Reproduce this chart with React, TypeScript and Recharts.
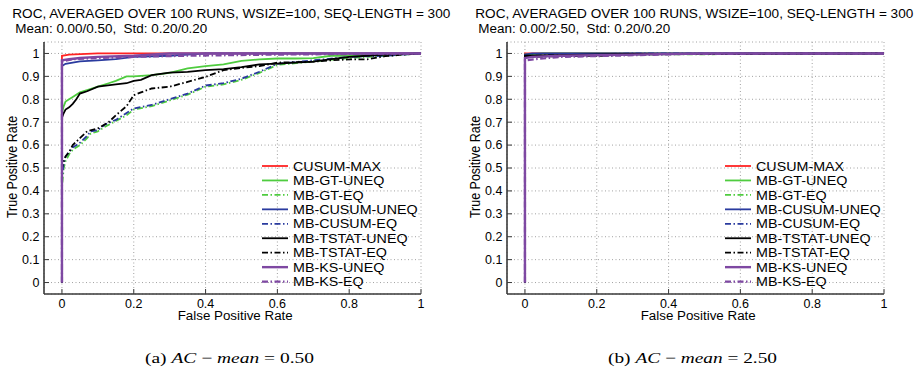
import React from 'react';
import { LineChart, Line, XAxis, YAxis, CartesianGrid, Legend } from 'recharts';

// ---------- labels ----------
const SERIES_NAMES = [
  'CUSUM-MAX',
  'MB-GT-UNEQ',
  'MB-GT-EQ',
  'MB-CUSUM-UNEQ',
  'MB-CUSUM-EQ',
  'MB-TSTAT-UNEQ',
  'MB-TSTAT-EQ',
  'MB-KS-UNEQ',
  'MB-KS-EQ',
];
const X_TICKS = [0, 0.2, 0.4, 0.6, 0.8, 1];
const Y_TICKS = [0, 0.1, 0.2, 0.3, 0.4, 0.5, 0.6, 0.7, 0.8, 0.9, 1];
const TITLE = 'ROC, AVERAGED OVER 100 RUNS, WSIZE=100, SEQ-LENGTH = 300';
const SUBTITLE_A = 'Mean: 0.00/0.50,  Std: 0.20/0.20';
const SUBTITLE_B = 'Mean: 0.00/2.50,  Std: 0.20/0.20';
const X_LABEL = 'False Positive Rate';
const Y_LABEL = 'True Positive Rate';

// ---------- panel (a) data: AC-mean = 0.50 ----------
const a_cusumMax_fpr = [0, 0, 0.02, 0.1, 1];
const a_cusumMax_tpr = [0, 0.99, 0.995, 1, 1];

const a_gtUneq_fpr = [0, 0, 0.005, 0.01, 0.02, 0.03, 0.05, 0.07, 0.1, 0.13, 0.15, 0.18, 0.2, 0.25, 0.3, 0.35, 0.4, 0.45, 0.5, 0.55, 0.6, 0.65, 0.7, 0.75, 0.8, 0.9, 1];
const a_gtUneq_tpr = [0, 0.74, 0.77, 0.79, 0.8, 0.81, 0.83, 0.84, 0.855, 0.87, 0.88, 0.9, 0.9, 0.905, 0.915, 0.935, 0.945, 0.952, 0.968, 0.974, 0.978, 0.978, 0.98, 0.99, 0.99, 0.995, 1];

const a_gtEq_fpr = [0, 0, 0.005, 0.01, 0.02, 0.03, 0.05, 0.07, 0.08, 0.1, 0.12, 0.15, 0.18, 0.2, 0.25, 0.3, 0.35, 0.4, 0.45, 0.5, 0.55, 0.6, 0.7, 0.8, 0.9, 1];
const a_gtEq_tpr = [0, 0.42, 0.5, 0.53, 0.56, 0.58, 0.6, 0.63, 0.65, 0.66, 0.68, 0.705, 0.73, 0.755, 0.77, 0.795, 0.82, 0.855, 0.865, 0.885, 0.915, 0.95, 0.965, 0.98, 0.99, 1];

const a_cusumUneq_fpr = [0, 0, 0.01, 0.05, 0.1, 0.15, 0.2, 0.3, 0.4, 1];
const a_cusumUneq_tpr = [0, 0.945, 0.955, 0.965, 0.97, 0.975, 0.985, 0.99, 1, 1];

const a_cusumEq_fpr = [0, 0, 0.005, 0.01, 0.02, 0.03, 0.05, 0.07, 0.08, 0.1, 0.12, 0.15, 0.18, 0.2, 0.25, 0.3, 0.35, 0.4, 0.45, 0.5, 0.55, 0.6, 0.7, 0.8, 0.9, 1];
const a_cusumEq_tpr = [0, 0.46, 0.52, 0.55, 0.57, 0.59, 0.61, 0.64, 0.66, 0.665, 0.69, 0.71, 0.74, 0.76, 0.775, 0.8, 0.825, 0.86, 0.87, 0.89, 0.92, 0.955, 0.97, 0.985, 0.99, 1];

const a_tstatUneq_fpr = [0, 0, 0.005, 0.01, 0.02, 0.03, 0.04, 0.05, 0.07, 0.1, 0.15, 0.18, 0.2, 0.22, 0.25, 0.3, 0.35, 0.4, 0.45, 0.5, 0.55, 0.6, 0.65, 0.7, 0.75, 0.8, 0.85, 0.9, 1];
const a_tstatUneq_tpr = [0, 0.72, 0.74, 0.755, 0.765, 0.78, 0.8, 0.825, 0.835, 0.855, 0.865, 0.87, 0.88, 0.885, 0.905, 0.916, 0.92, 0.927, 0.932, 0.94, 0.952, 0.956, 0.96, 0.964, 0.975, 0.985, 0.99, 0.995, 1];

const a_tstatEq_fpr = [0, 0, 0.005, 0.01, 0.02, 0.03, 0.05, 0.07, 0.1, 0.13, 0.15, 0.18, 0.2, 0.22, 0.25, 0.3, 0.35, 0.4, 0.45, 0.5, 0.55, 0.6, 0.65, 0.7, 0.75, 0.8, 0.85, 0.9, 0.95, 1];
const a_tstatEq_tpr = [0, 0.5, 0.53, 0.55, 0.57, 0.6, 0.63, 0.66, 0.673, 0.7, 0.73, 0.77, 0.818, 0.83, 0.847, 0.855, 0.876, 0.898, 0.927, 0.937, 0.945, 0.96, 0.962, 0.964, 0.97, 0.974, 0.974, 0.988, 0.995, 1];

const a_ksUneq_fpr = [0, 0, 0.02, 0.05, 0.1, 0.2, 0.3, 1];
const a_ksUneq_tpr = [0, 0.97, 0.975, 0.98, 0.985, 0.99, 1, 1];

const a_ksEq_fpr = [0, 0, 0.03, 0.1, 0.2, 0.35, 0.6, 1];
const a_ksEq_tpr = [0, 0.965, 0.975, 0.98, 0.985, 0.99, 0.995, 1];

// ---------- panel (b) data: AC-mean = 2.50 ----------
const b_cusumMax_fpr = [0, 0, 1];
const b_cusumMax_tpr = [0, 1, 1];
const b_gtUneq_fpr = [0, 0, 0.05, 1];
const b_gtUneq_tpr = [0, 0.995, 1, 1];
const b_gtEq_fpr = [0, 0, 0.1, 0.3, 1];
const b_gtEq_tpr = [0, 0.985, 0.99, 0.995, 1];
const b_cusumUneq_fpr = [0, 0, 0.02, 1];
const b_cusumUneq_tpr = [0, 0.995, 1, 1];
const b_cusumEq_fpr = [0, 0, 0.1, 0.3, 1];
const b_cusumEq_tpr = [0, 0.99, 0.995, 1, 1];
const b_tstatUneq_fpr = [0, 0, 0.05, 0.25, 1];
const b_tstatUneq_tpr = [0, 0.99, 0.992, 0.997, 1];
const b_tstatEq_fpr = [0, 0, 0.1, 0.22, 0.3, 1];
const b_tstatEq_tpr = [0, 0.985, 0.988, 0.99, 0.997, 1];
const b_ksUneq_fpr = [0, 0, 0.02, 0.1, 0.3, 0.5, 1];
const b_ksUneq_tpr = [0, 0.98, 0.985, 0.99, 0.995, 1, 1];
const b_ksEq_fpr = [0, 0, 0.03, 0.1, 0.25, 0.45, 1];
const b_ksEq_tpr = [0, 0.97, 0.975, 0.985, 0.99, 0.998, 1];

// ---------- styles ----------
const RED = '#ff2323';
const GREEN = '#4fcc3f';
const BLUE = '#2a3b9f';
const BLACK = '#000000';
const PURPLE = '#7e48a2';
const DASHDOT = '6 2.5 1.5 2.5';
const STYLES = [
  { color: RED, dash: undefined, width: 1.8 },
  { color: GREEN, dash: undefined, width: 1.8 },
  { color: GREEN, dash: DASHDOT, width: 1.8 },
  { color: BLUE, dash: undefined, width: 1.8 },
  { color: BLUE, dash: DASHDOT, width: 1.8 },
  { color: BLACK, dash: undefined, width: 1.8 },
  { color: BLACK, dash: DASHDOT, width: 1.8 },
  { color: PURPLE, dash: undefined, width: 2.4 },
  { color: PURPLE, dash: DASHDOT, width: 2.2 },
];
const AXIS_COLOR = '#3a3a3a';
const FONT = '"Liberation Sans", Arial, Helvetica, sans-serif';
const SERIF = '"Liberation Serif", "DejaVu Serif", serif';
const STRETCH = 1.1;

const toPoints = (fpr: number[], tpr: number[]) => fpr.map((x, i) => ({ x, y: tpr[i] }));

const SERIES_A = [
  toPoints(a_cusumMax_fpr, a_cusumMax_tpr),
  toPoints(a_gtUneq_fpr, a_gtUneq_tpr),
  toPoints(a_gtEq_fpr, a_gtEq_tpr),
  toPoints(a_cusumUneq_fpr, a_cusumUneq_tpr),
  toPoints(a_cusumEq_fpr, a_cusumEq_tpr),
  toPoints(a_tstatUneq_fpr, a_tstatUneq_tpr),
  toPoints(a_tstatEq_fpr, a_tstatEq_tpr),
  toPoints(a_ksUneq_fpr, a_ksUneq_tpr),
  toPoints(a_ksEq_fpr, a_ksEq_tpr),
];
const SERIES_B = [
  toPoints(b_cusumMax_fpr, b_cusumMax_tpr),
  toPoints(b_gtUneq_fpr, b_gtUneq_tpr),
  toPoints(b_gtEq_fpr, b_gtEq_tpr),
  toPoints(b_cusumUneq_fpr, b_cusumUneq_tpr),
  toPoints(b_cusumEq_fpr, b_cusumEq_tpr),
  toPoints(b_tstatUneq_fpr, b_tstatUneq_tpr),
  toPoints(b_tstatEq_fpr, b_tstatEq_tpr),
  toPoints(b_ksUneq_fpr, b_ksUneq_tpr),
  toPoints(b_ksEq_fpr, b_ksEq_tpr),
];

const fmt = (v: number) => String(v);

const YTick = (p: any) => (
  <g>
    <line x1={p.x} x2={p.x + 5} y1={p.y} y2={p.y} stroke={AXIS_COLOR} strokeWidth={1} />
    <text x={p.x - 4.5} y={p.y} dy={4.4} textAnchor="end" fontSize={12.5} fontFamily={FONT} fill="#000">
      {fmt(p.payload.value)}
    </text>
  </g>
);

const XTick = (p: any) => (
  <g>
    <line x1={p.x} x2={p.x} y1={p.y} y2={p.y - 5} stroke={AXIS_COLOR} strokeWidth={1} />
    <text x={p.x} y={p.y} dy={13.5} textAnchor="middle" fontSize={12.5} fontFamily={FONT} fill="#000">
      {fmt(p.payload.value)}
    </text>
  </g>
);

const ROW_H = 14.45;
const LegendContent = () => (
  <svg width={180} height={ROW_H * SERIES_NAMES.length + 4} style={{ display: 'block', overflow: 'visible' }}>
    {SERIES_NAMES.map((name, i) => {
      const cy = 7 + i * ROW_H;
      return (
        <g key={name}>
          <line
            x1={0}
            x2={26}
            y1={cy}
            y2={cy}
            stroke={STYLES[i].color}
            strokeWidth={STYLES[i].width}
            strokeDasharray={STYLES[i].dash}
          />
          <text
            transform={`translate(31, ${cy + 4.6}) scale(${STRETCH}, 1)`}
            fontSize={13}
            fontFamily={FONT}
            fill="#000"
          >
            {name}
          </text>
        </g>
      );
    })}
  </svg>
);

type PanelProps = {
  left: number;
  subtitle: string;
  series: { x: number; y: number }[][];
  captionLetter: string;
  captionValue: string;
};

const Panel = ({ left, subtitle, series, captionLetter, captionValue }: PanelProps) => (
  <div style={{ position: 'absolute', left, top: 0, width: 460, height: 372 }}>
    <LineChart width={460} height={372} margin={{ top: 42, right: 39, bottom: 58, left: 0 }}>
      <CartesianGrid stroke="#8a8a8a" strokeDasharray="1 2.5" strokeWidth={0.8} />
      <XAxis
        type="number"
        dataKey="x"
        domain={[-0.05, 1]}
        ticks={X_TICKS}
        allowDataOverflow
        height={20}
        tickSize={0}
        tickMargin={0}
        tickLine={false}
        tick={<XTick />}
        axisLine={{ stroke: AXIS_COLOR, strokeWidth: 1.6 }}
        interval={0}
      />
      <YAxis
        type="number"
        dataKey="y"
        domain={[-0.05, 1.05]}
        ticks={Y_TICKS}
        allowDataOverflow
        width={44}
        tickSize={0}
        tickMargin={0}
        tickLine={false}
        tick={<YTick />}
        axisLine={{ stroke: AXIS_COLOR, strokeWidth: 1.6 }}
        interval={0}
      />
      {series.map((data, i) => (
        <Line
          key={SERIES_NAMES[i]}
          name={SERIES_NAMES[i]}
          data={data}
          dataKey="y"
          type="linear"
          stroke={STYLES[i].color}
          strokeWidth={STYLES[i].width}
          strokeDasharray={STYLES[i].dash}
          dot={false}
          activeDot={false}
          isAnimationActive={false}
        />
      ))}
      <Legend
        layout="vertical"
        align="center"
        verticalAlign="middle"
        content={<LegendContent />}
        wrapperStyle={{ position: 'absolute', left: 262, top: 159, width: 180, height: 136 }}
      />
    </LineChart>
    <svg width={460} height={372} style={{ position: 'absolute', left: 0, top: 0, pointerEvents: 'none' }}>
      <text x={12.3} y={18.3} fontSize={13} fontFamily={FONT} fill="#000" textLength={438} lengthAdjust="spacingAndGlyphs">
        {TITLE}
      </text>
      <text
        x={15.3}
        y={32.6}
        fontSize={12.5}
        fontFamily={FONT}
        fill="#000"
        textLength={192}
        lengthAdjust="spacingAndGlyphs"
        style={{ whiteSpace: 'pre' }}
      >
        {subtitle}
      </text>
      <text
        x={0}
        y={0}
        transform="translate(16.8,167) rotate(-90) scale(1, 1.1)"
        textAnchor="middle"
        fontSize={12.5}
        fontFamily={FONT}
        fill="#000"
      >
        {Y_LABEL}
      </text>
      <text
        x={177.7}
        y={320.3}
        fontSize={12.5}
        fontFamily={FONT}
        fill="#000"
        textLength={115}
        lengthAdjust="spacingAndGlyphs"
      >
        {X_LABEL}
      </text>
      <text
        x={145}
        y={363}
        fontSize={15}
        fontFamily={SERIF}
        fill="#000"
        textLength={169}
        lengthAdjust="spacingAndGlyphs"
        style={{ whiteSpace: 'pre' }}
      >
        <tspan>{`(${captionLetter}) `}</tspan>
        <tspan fontStyle="italic">AC</tspan>
        <tspan>{' − '}</tspan>
        <tspan fontStyle="italic">mean</tspan>
        <tspan>{` = ${captionValue}`}</tspan>
      </text>
    </svg>
  </div>
);

export default function App() {
  return (
    <div style={{ position: 'absolute', left: 0, top: 0, width: 920, height: 372, background: '#fff', overflow: 'hidden' }}>
      <Panel left={0} subtitle={SUBTITLE_A} series={SERIES_A} captionLetter="a" captionValue="0.50" />
      <Panel left={463} subtitle={SUBTITLE_B} series={SERIES_B} captionLetter="b" captionValue="2.50" />
    </div>
  );
}
